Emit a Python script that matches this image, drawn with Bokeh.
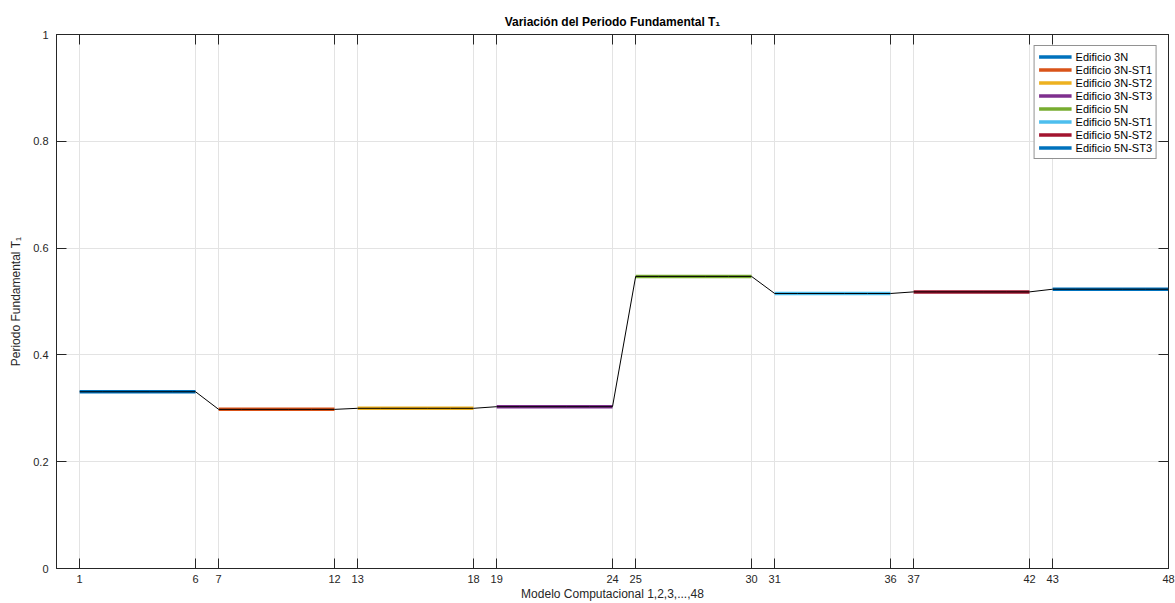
from bokeh.plotting import figure
from bokeh.models import Range1d, FixedTicker, LinearAxis
from bokeh.embed import file_html
from bokeh.resources import INLINE

# ---- data ----
labels = ["Edificio 3N", "Edificio 3N-ST1", "Edificio 3N-ST2", "Edificio 3N-ST3",
          "Edificio 5N", "Edificio 5N-ST1", "Edificio 5N-ST2", "Edificio 5N-ST3"]
colors = ["#0072BD", "#D95319", "#EDB120", "#7E2F8E",
          "#77AC30", "#4DBEEE", "#A2142F", "#0072BD"]
models = [[1, 2, 3, 4, 5, 6], [7, 8, 9, 10, 11, 12], [13, 14, 15, 16, 17, 18],
          [19, 20, 21, 22, 23, 24], [25, 26, 27, 28, 29, 30], [31, 32, 33, 34, 35, 36],
          [37, 38, 39, 40, 41, 42], [43, 44, 45, 46, 47, 48]]
t_3N = [0.331, 0.331, 0.331, 0.331, 0.331, 0.331]
t_3N_ST1 = [0.298, 0.298, 0.298, 0.298, 0.298, 0.298]
t_3N_ST2 = [0.300, 0.300, 0.300, 0.300, 0.300, 0.300]
t_3N_ST3 = [0.303, 0.303, 0.303, 0.303, 0.303, 0.303]
t_5N = [0.547, 0.547, 0.547, 0.547, 0.547, 0.547]
t_5N_ST1 = [0.515, 0.515, 0.515, 0.515, 0.515, 0.515]
t_5N_ST2 = [0.518, 0.518, 0.518, 0.518, 0.518, 0.518]
t_5N_ST3 = [0.523, 0.523, 0.523, 0.523, 0.523, 0.523]
series = [t_3N, t_3N_ST1, t_3N_ST2, t_3N_ST3, t_5N, t_5N_ST1, t_5N_ST2, t_5N_ST3]
x_ticks = [1, 6, 7, 12, 13, 18, 19, 24, 25, 30, 31, 36, 37, 42, 43, 48]
y_ticks = [0, 0.2, 0.4, 0.6, 0.8, 1]
y_tick_labels = ["0", "0.2", "0.4", "0.6", "0.8", "1"]
x_title = "Modelo Computacional 1,2,3,...,48"
y_title = "Periodo Fundamental T\u2081"
main_title = "Variación del Periodo Fundamental T\u2081"

FONT = "Liberation Sans"
TXT = "#262626"

p = figure(width=1175, height=603, output_backend="svg", toolbar_location=None,
           x_range=Range1d(0, 48), y_range=Range1d(0, 1),
           min_border_left=56, min_border_right=7, min_border_top=34, min_border_bottom=33)

p.title.text = main_title
p.title.align = "center"
p.title.text_font = FONT
p.title.text_font_size = "12px"
p.title.text_font_style = "bold"
p.title.text_color = "#000000"
p.title.standoff = 12

for xs, ys, c, lab in zip(models, series, colors, labels):
    p.line(xs, ys, line_color=c, line_width=3.5, legend_label=lab)

all_x = [x for xs in models for x in xs]
all_y = [y for ys in series for y in ys]
p.line(all_x, all_y, line_color="#000000", line_width=1)

p.xaxis.ticker = FixedTicker(ticks=x_ticks)
p.yaxis.ticker = FixedTicker(ticks=y_ticks)
p.yaxis.major_label_overrides = {t: l for t, l in zip(y_ticks, y_tick_labels)}
p.xaxis.axis_label = x_title
p.yaxis.axis_label = y_title

for ax in [p.xaxis[0], p.yaxis[0]]:
    ax.major_tick_in = 10
    ax.major_tick_out = 0
    ax.minor_tick_in = 0
    ax.minor_tick_out = 0
    ax.axis_line_color = TXT
    ax.major_tick_line_color = TXT
    ax.major_label_text_font = FONT
    ax.major_label_text_font_size = "11px"
    ax.major_label_text_color = TXT
    ax.axis_label_text_font = FONT
    ax.axis_label_text_font_size = "12px"
    ax.axis_label_text_font_style = "normal"
    ax.axis_label_text_color = TXT
p.xaxis.major_label_standoff = 6
p.xaxis.axis_label_standoff = 1
p.yaxis.major_label_standoff = 8
p.yaxis.axis_label_standoff = 7

top = LinearAxis(ticker=FixedTicker(ticks=[], minor_ticks=x_ticks), major_tick_in=0,
                 major_tick_out=0, minor_tick_in=10, minor_tick_out=0,
                 axis_line_color=TXT, minor_tick_line_color=TXT)
right = LinearAxis(ticker=FixedTicker(ticks=[], minor_ticks=y_ticks), major_tick_in=0,
                   major_tick_out=0, minor_tick_in=10, minor_tick_out=0,
                   axis_line_color=TXT, minor_tick_line_color=TXT)
p.add_layout(top, "above")
p.add_layout(right, "right")

p.xgrid.grid_line_color = "#e3e3e3"
p.ygrid.grid_line_color = "#e3e3e3"
p.outline_line_color = TXT

lg = p.legend[0]
lg.location = "top_right"
lg.margin = 11
lg.border_line_color = "#262626"
lg.border_line_width = 1
lg.label_text_font = FONT
lg.label_text_font_size = "11px"
lg.label_text_color = "#000000"
lg.glyph_width = 33
lg.glyph_height = 13
lg.label_height = 13
lg.label_standoff = 4
lg.spacing = 0
lg.padding = 4
lg.background_fill_alpha = 1

p.background_fill_color = "white"
p.border_fill_color = "white"

open("out.html", "w").write(file_html(p, INLINE))
